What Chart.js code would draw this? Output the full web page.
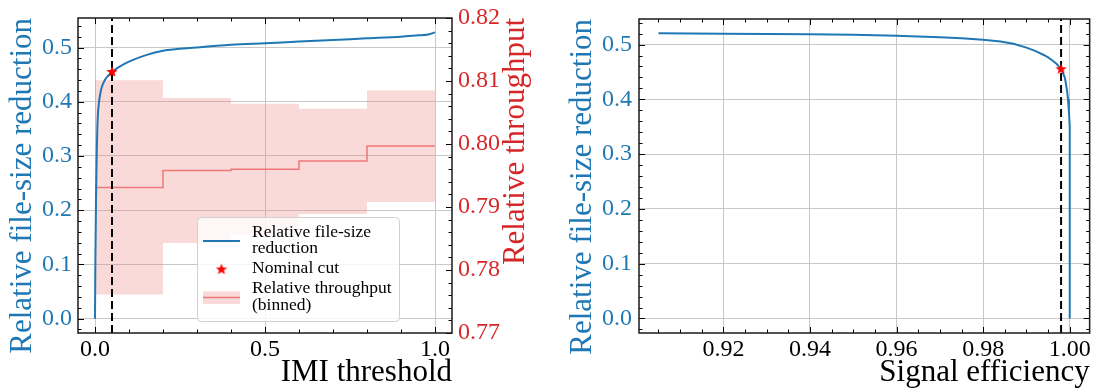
<!DOCTYPE html>
<html>
<head>
<meta charset="utf-8">
<script src="https://cdn.jsdelivr.net/npm/chart.js@4.4.0/dist/chart.umd.min.js"></script>
<style>
  html, body { margin: 0; padding: 0; background: #fff; }
  canvas { position: absolute; top: 0; }
  #izq { left: 0; }
  #der { left: 548px; }
</style>
</head>
<body>
<canvas id="izq" width="548" height="392"></canvas>
<canvas id="der" width="548" height="392"></canvas>
<script>
// --- Datos del panel izquierdo (umbral IMI) ---
const umbralIMI = [0, 0.001, 0.003, 0.005, 0.008, 0.011, 0.015, 0.02, 0.03, 0.04, 0.05, 0.07, 0.1, 0.15, 0.2, 0.3, 0.4, 0.5, 0.6, 0.7, 0.8, 0.9, 0.95, 0.98, 1.0];
const reduccionIMI = [0, 0.10, 0.22, 0.30, 0.37, 0.395, 0.413, 0.427, 0.441, 0.449, 0.455, 0.464, 0.474, 0.486, 0.494, 0.500, 0.505, 0.508, 0.511, 0.514, 0.517, 0.520, 0.5225, 0.524, 0.528];

const bordesBins = [0, 0.2, 0.4, 0.6, 0.8, 1.0];
const throughputMedio = [0.7931, 0.7958, 0.7960, 0.7973, 0.7997];
const throughputAlto = [0.8101, 0.8073, 0.8064, 0.8056, 0.8085];
const throughputBajo = [0.7761, 0.7843, 0.7855, 0.7889, 0.7908];
const corteNominal = { x: 0.05, y: 0.455 };

// --- Datos del panel derecho (eficiencia de señal) ---
const eficiencia = [0.905, 0.92, 0.93, 0.94, 0.95, 0.96, 0.97, 0.975, 0.98, 0.984, 0.987, 0.99, 0.992, 0.994, 0.995, 0.996, 0.997, 0.998, 0.9985, 0.9989, 0.9994, 0.9996, 0.9998, 1.0, 1.0];
const reduccionEf = [0.5205, 0.5200, 0.5195, 0.5190, 0.5178, 0.5160, 0.5135, 0.5115, 0.5088, 0.5055, 0.5015, 0.4945, 0.4885, 0.4810, 0.4765, 0.4710, 0.4645, 0.4550, 0.4470, 0.4390, 0.4150, 0.4000, 0.3800, 0.3500, 0.0];
const corteEficiencia = { x: 0.998, y: 0.455 };

// --- Marcas de los ejes ---
const ticksIMI = [0, 0.5, 1.0];
const ticksReduccion = [0, 0.1, 0.2, 0.3, 0.4, 0.5];
const ticksThroughput = [0.77, 0.78, 0.79, 0.80, 0.81, 0.82];
const ticksEficiencia = [0.92, 0.94, 0.96, 0.98, 1.00];

const AZUL = '#1f77b4';
const ROJO = '#d62728';
const ROJO_CLARO = '#ef7878';
const BANDA = 'rgba(240, 128, 128, 0.3)';
const GRIS = '#c8c8c8';
const FUENTE = '"Liberation Serif", "DejaVu Serif", serif';

Chart.defaults.font.family = FUENTE;
Chart.defaults.color = '#000';

// Estrella rellena para el punto del corte nominal
function crearEstrella(r) {
    const c = document.createElement('canvas');
    c.width = c.height = Math.ceil(r * 2 + 2);
    const g = c.getContext('2d');
    const m = c.width / 2;
    g.beginPath();
    for (let i = 0; i < 10; i++) {
        const ang = -Math.PI / 2 + i * Math.PI / 5;
        const rr = i % 2 === 0 ? r : r * 0.42;
        g.lineTo(m + rr * Math.cos(ang), m + rr * Math.sin(ang));
    }
    g.closePath();
    g.fillStyle = '#ff0000';
    g.fill();
    return c;
}
const estrella = crearEstrella(6);

const puntos = (xs, ys) => xs.map((x, i) => ({ x: x, y: ys[i] }));

function escalon(valores) {
    const pts = valores.map((v, i) => ({ x: bordesBins[i], y: v }));
    pts.push({ x: bordesBins[bordesBins.length - 1], y: valores[valores.length - 1] });
    return pts;
}

// Marcas hacia dentro (mayores y menores) + marco
function dibujarMarcas(chart, specs) {
    const { ctx, chartArea: a } = chart;
    ctx.save();
    ctx.strokeStyle = '#000';
    ctx.lineWidth = 1;
    specs.forEach(s => {
        const esc = chart.scales[s.eje];
        const k0 = Math.ceil(esc.min / s.menor - 1e-6);
        const k1 = Math.floor(esc.max / s.menor + 1e-6);
        for (let k = k0; k <= k1; k++) {
            const v = k * s.menor;
            const q = v / s.mayor;
            const len = Math.abs(q - Math.round(q)) < 1e-6 ? 6 : 3.5;
            const p = Math.round(esc.getPixelForValue(v)) + 0.5;
            s.lados.forEach(lado => {
                ctx.beginPath();
                if (lado === 'bottom') { ctx.moveTo(p, a.bottom); ctx.lineTo(p, a.bottom - len); }
                if (lado === 'top') { ctx.moveTo(p, a.top); ctx.lineTo(p, a.top + len); }
                if (lado === 'left') { ctx.moveTo(a.left, p); ctx.lineTo(a.left + len, p); }
                if (lado === 'right') { ctx.moveTo(a.right, p); ctx.lineTo(a.right - len, p); }
                ctx.stroke();
            });
        }
    });
    ctx.strokeStyle = '#1a1a1a';
    ctx.lineWidth = 1.5;
    ctx.strokeRect(a.left, a.top, a.right - a.left, a.bottom - a.top);
    ctx.restore();
}

const pluginMarcasIzq = {
    id: 'marcasIzq',
    afterDatasetsDraw: (chart) => dibujarMarcas(chart, [
        { eje: 'x', mayor: 0.5, menor: 0.1, lados: ['bottom', 'top'] },
        { eje: 'y', mayor: 0.1, menor: 0.02, lados: ['left'] },
        { eje: 'y2', mayor: 0.01, menor: 0.002, lados: ['right'] }
    ])
};

const pluginMarcasDer = {
    id: 'marcasDer',
    afterDatasetsDraw: (chart) => dibujarMarcas(chart, [
        { eje: 'x', mayor: 0.02, menor: 0.005, lados: ['bottom', 'top'] },
        { eje: 'y', mayor: 0.1, menor: 0.02, lados: ['left', 'right'] }
    ])
};

// Título del eje derecho (se lee de abajo hacia arriba, como el izquierdo)
const pluginTituloDerecho = {
    id: 'tituloDerecho',
    afterDraw: (chart) => {
        const { ctx, chartArea } = chart;
        ctx.save();
        ctx.translate(chartArea.right + 72, chartArea.top);
        ctx.rotate(-Math.PI / 2);
        ctx.font = '31px ' + FUENTE;
        ctx.fillStyle = ROJO;
        ctx.textAlign = 'right';
        ctx.textBaseline = 'alphabetic';
        ctx.fillText('Relative throughput', 0, 0);
        ctx.restore();
    }
};

// Leyenda dentro del área del gráfico
const itemsLeyenda = [
    { tipo: 'linea', texto: ['Relative file-size', 'reduction'] },
    { tipo: 'estrella', texto: ['Nominal cut'] },
    { tipo: 'banda', texto: ['Relative throughput', '(binned)'] }
];

const pluginLeyenda = {
    id: 'leyenda',
    afterDraw: (chart) => {
        const { ctx, chartArea: a } = chart;
        const x0 = a.right - 255, y0 = a.bottom - 116;
        ctx.save();
        ctx.beginPath();
        ctx.roundRect(x0 + 0.5, y0 + 0.5, 202, 104, 4);
        ctx.fillStyle = 'rgba(255, 255, 255, 0.8)';
        ctx.fill();
        ctx.strokeStyle = '#d0d0d0';
        ctx.lineWidth = 1;
        ctx.stroke();

        ctx.font = '17.5px ' + FUENTE;
        ctx.fillStyle = '#000';
        ctx.textAlign = 'left';
        ctx.textBaseline = 'alphabetic';
        const xs = x0 + 6, xe = x0 + 43, xt = x0 + 55;
        const base = [[19.5, 36.3], [56.3], [76.3, 93]];
        const centro = [24, 52.5, 80.5];
        itemsLeyenda.forEach((it, i) => {
            const cy = y0 + centro[i];
            if (it.tipo === 'linea') {
                ctx.strokeStyle = AZUL; ctx.lineWidth = 2;
                ctx.beginPath(); ctx.moveTo(xs, cy); ctx.lineTo(xe, cy); ctx.stroke();
            } else if (it.tipo === 'estrella') {
                ctx.drawImage(estrella, (xs + xe) / 2 - estrella.width / 2, cy - estrella.height / 2);
            } else {
                ctx.fillStyle = BANDA;
                ctx.fillRect(xs, cy - 6, xe - xs, 12.5);
                ctx.strokeStyle = ROJO_CLARO; ctx.lineWidth = 1.5;
                ctx.beginPath(); ctx.moveTo(xs, cy); ctx.lineTo(xe, cy); ctx.stroke();
                ctx.fillStyle = '#000';
            }
            it.texto.forEach((t, j) => ctx.fillText(t, xt, y0 + base[i][j]));
        });
        ctx.restore();
    }
};

const tickFont = { family: FUENTE, size: 24, lineHeight: 1 };
const titleFont = { family: FUENTE, size: 31, lineHeight: 1 };

// --- Panel izquierdo ---
const yIzqMin = -0.0265, yIzqMax = 0.5545;
new Chart(document.getElementById('izq'), {
    type: 'scatter',
    data: {
        datasets: [
            {
                data: [corteNominal],
                pointStyle: estrella,
                pointRadius: 6,
                yAxisID: 'y'
            },
            {
                data: [{ x: corteNominal.x, y: yIzqMin }, { x: corteNominal.x, y: yIzqMax }],
                showLine: true,
                borderColor: '#000',
                borderWidth: 2,
                borderDash: [8, 4],
                pointRadius: 0,
                yAxisID: 'y'
            },
            {
                data: puntos(umbralIMI, reduccionIMI),
                showLine: true,
                borderColor: AZUL,
                borderWidth: 2,
                pointRadius: 0,
                cubicInterpolationMode: 'monotone',
                yAxisID: 'y'
            },
            {
                data: escalon(throughputMedio),
                showLine: true,
                stepped: 'before',
                borderColor: ROJO_CLARO,
                borderWidth: 1.5,
                pointRadius: 0,
                yAxisID: 'y2'
            },
            {
                data: escalon(throughputAlto),
                showLine: true,
                stepped: 'before',
                borderWidth: 0,
                pointRadius: 0,
                fill: false,
                yAxisID: 'y2'
            },
            {
                data: escalon(throughputBajo),
                showLine: true,
                stepped: 'before',
                borderWidth: 0,
                pointRadius: 0,
                backgroundColor: BANDA,
                fill: '-1',
                yAxisID: 'y2'
            }
        ]
    },
    plugins: [pluginMarcasIzq, pluginTituloDerecho, pluginLeyenda],
    options: {
        responsive: false,
        animation: false,
        devicePixelRatio: 1,
        layout: { padding: { top: 14, left: 0, right: 0, bottom: 0 }, autoPadding: false },
        plugins: { legend: { display: false }, tooltip: { enabled: false } },
        scales: {
            x: {
                type: 'linear',
                position: 'bottom',
                min: -0.05,
                max: 1.05,
                afterBuildTicks: (s) => { s.ticks = ticksIMI.map(v => ({ value: v })); },
                afterFit: (s) => { s.height = 59; },
                ticks: { callback: v => v.toFixed(1), font: tickFont, color: '#000', padding: 5, maxRotation: 0, autoSkip: false },
                grid: { color: GRIS, drawTicks: false },
                border: { display: false },
                title: { display: true, text: 'IMI threshold', align: 'end', font: titleFont, color: '#000', padding: { top: 0, bottom: 3.5 } }
            },
            y: {
                type: 'linear',
                position: 'left',
                min: yIzqMin,
                max: yIzqMax,
                afterBuildTicks: (s) => { s.ticks = ticksReduccion.map(v => ({ value: v })); },
                afterFit: (s) => { s.width = 78; },
                ticks: { callback: v => v.toFixed(1), font: tickFont, color: AZUL, padding: 6, autoSkip: false },
                grid: { color: GRIS, drawTicks: false },
                border: { display: false },
                title: { display: true, text: 'Relative file-size reduction', align: 'end', font: titleFont, color: AZUL, padding: { top: 7, bottom: 0 } }
            },
            y2: {
                type: 'linear',
                position: 'right',
                min: 0.77,
                max: 0.82,
                afterBuildTicks: (s) => { s.ticks = ticksThroughput.map(v => ({ value: v })); },
                afterFit: (s) => { s.width = 96; },
                ticks: { callback: v => v.toFixed(2), font: tickFont, color: ROJO, padding: 6, autoSkip: false },
                grid: { display: false, drawTicks: false },
                border: { display: false }
            }
        }
    }
});

// --- Panel derecho ---
const yDerMin = -0.0265, yDerMax = 0.5467;
new Chart(document.getElementById('der'), {
    type: 'scatter',
    data: {
        datasets: [
            {
                data: [corteEficiencia],
                pointStyle: estrella,
                pointRadius: 6
            },
            {
                data: [{ x: corteEficiencia.x, y: yDerMin }, { x: corteEficiencia.x, y: yDerMax }],
                showLine: true,
                borderColor: '#000',
                borderWidth: 2,
                borderDash: [8, 4],
                pointRadius: 0
            },
            {
                data: puntos(eficiencia, reduccionEf),
                showLine: true,
                borderColor: AZUL,
                borderWidth: 2,
                pointRadius: 0
            }
        ]
    },
    plugins: [pluginMarcasDer],
    options: {
        responsive: false,
        animation: false,
        devicePixelRatio: 1,
        layout: { padding: { top: 5, left: 0, right: 6, bottom: 0 }, autoPadding: false },
        plugins: { legend: { display: false }, tooltip: { enabled: false } },
        scales: {
            x: {
                type: 'linear',
                position: 'bottom',
                min: 0.9005,
                max: 1.0046,
                afterBuildTicks: (s) => { s.ticks = ticksEficiencia.map(v => ({ value: v })); },
                afterFit: (s) => { s.height = 59; },
                ticks: { callback: v => v.toFixed(2), font: tickFont, color: '#000', padding: 5, maxRotation: 0, autoSkip: false },
                grid: { color: GRIS, drawTicks: false },
                border: { display: false },
                title: { display: true, text: 'Signal efficiency', align: 'end', font: titleFont, color: '#000', padding: { top: 0, bottom: 3.5 } }
            },
            y: {
                type: 'linear',
                position: 'left',
                min: yDerMin,
                max: yDerMax,
                afterBuildTicks: (s) => { s.ticks = ticksReduccion.map(v => ({ value: v })); },
                afterFit: (s) => { s.width = 91; },
                ticks: { callback: v => v.toFixed(1), font: tickFont, color: AZUL, padding: 7, autoSkip: false },
                grid: { color: GRIS, drawTicks: false },
                border: { display: false },
                title: { display: true, text: 'Relative file-size reduction', align: 'end', font: titleFont, color: AZUL, padding: { top: 19, bottom: 0 } }
            }
        }
    }
});
</script>
</body>
</html>
